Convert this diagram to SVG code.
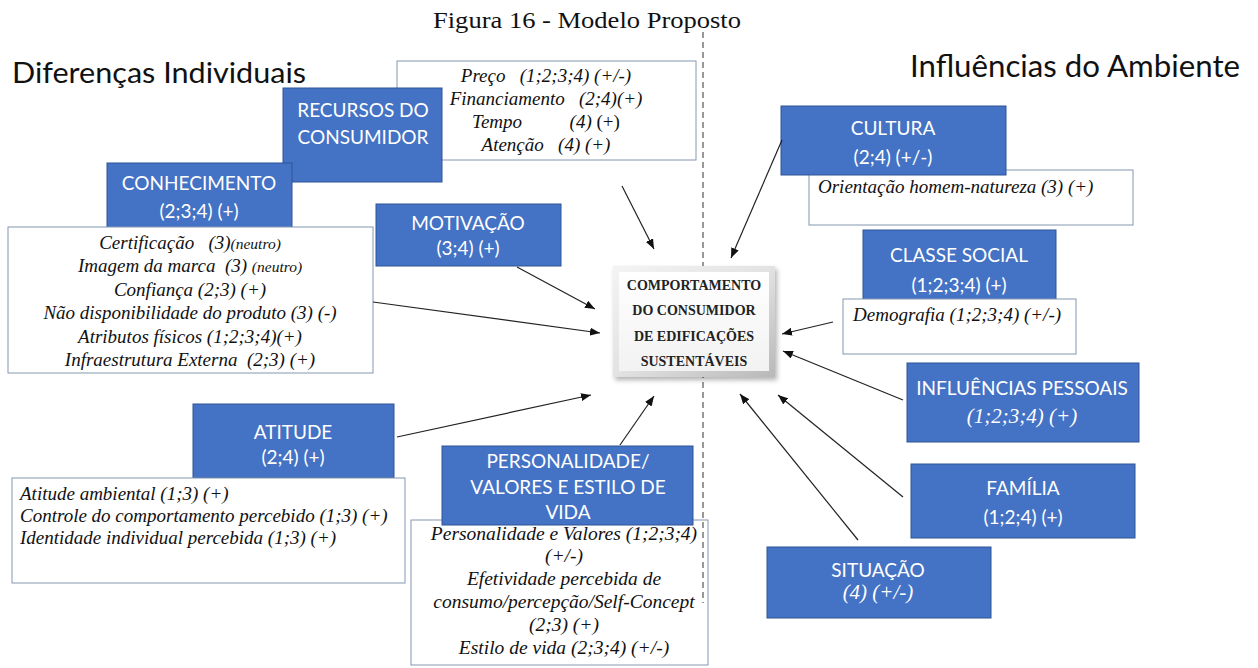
<svg xmlns="http://www.w3.org/2000/svg" width="1258" height="668" viewBox="0 0 1258 668">
<style>
.blue{fill:#4472C4;stroke:#2F5597;stroke-width:1}
.tbox{fill:#ffffff;stroke:#8497B0;stroke-width:1}
.bl{font-family:Lato,"Liberation Sans",sans-serif;font-size:19px;fill:#ffffff;text-anchor:middle}
.bi{font-family:"Times New Roman","Liberation Serif",Tinos,Times,serif;font-style:italic;font-size:21px;fill:#ffffff;text-anchor:middle}
.it{font-family:"Times New Roman","Liberation Serif",Tinos,Times,serif;font-style:italic;font-size:19px;fill:#111111}
.pv{font-size:19.5px}
.c{text-anchor:middle}
.sm{font-size:15.5px}
.hd{font-family:Lato,"Liberation Sans",sans-serif;fill:#111111}
.ttl{font-family:"Times New Roman","Liberation Serif",Tinos,Times,serif;font-size:23px;fill:#111111;text-anchor:middle}
.ctr{font-family:"Times New Roman","Liberation Serif",Tinos,Times,serif;font-weight:bold;font-size:14px;fill:#222222;text-anchor:middle}
.conn line{stroke:#222222;stroke-width:1.2;marker-end:url(#ah)}
</style>
<defs>
<marker id="ah" markerUnits="userSpaceOnUse" markerWidth="10" markerHeight="8" refX="10" refY="4" orient="auto">
<path d="M0,0 L10,4 L0,8 z" fill="#111111"/>
</marker>
<linearGradient id="bev" x1="0" y1="0" x2="1" y2="1">
<stop offset="0" stop-color="#f4f4f4"/>
<stop offset="0.5" stop-color="#e2e2e2"/>
<stop offset="1" stop-color="#b8b8b8"/>
</linearGradient>
<linearGradient id="face" x1="0" y1="0" x2="0" y2="1">
<stop offset="0" stop-color="#ffffff"/>
<stop offset="1" stop-color="#f2f2f2"/>
</linearGradient>
<filter id="sh" x="-10%" y="-10%" width="130%" height="130%">
<feDropShadow dx="2" dy="3" stdDeviation="2.5" flood-color="#000000" flood-opacity="0.3"/>
</filter>
</defs>
<rect width="1258" height="668" fill="#ffffff"/>

<text class="ttl" x="587" y="28" textLength="308" lengthAdjust="spacingAndGlyphs">Figura 16 - Modelo Proposto</text>
<text class="hd" x="12" y="83" font-size="28" textLength="294" lengthAdjust="spacingAndGlyphs">Diferenças Individuais</text>
<text class="hd" x="910" y="77" font-size="31" textLength="330" lengthAdjust="spacingAndGlyphs">Influências do Ambiente</text>

<g id="recursos">
<rect class="tbox" x="397" y="61" width="299" height="99"/>
<text class="it c" x="546" y="82" xml:space="preserve">Preço   (1;2;3;4) (+/-)</text>
<text class="it c" x="546" y="105" xml:space="preserve">Financiamento   (2;4)(+)</text>
<text class="it c" x="546" y="128" xml:space="preserve">Tempo          (4) <tspan font-style="normal">(+)</tspan></text>
<text class="it c" x="546" y="151" xml:space="preserve">Atenção   (4) (+)</text>
<rect class="blue" x="283" y="88" width="159" height="94"/>
<text class="bl" x="363" y="117">RECURSOS DO</text>
<text class="bl" x="363" y="144">CONSUMIDOR</text>
</g>

<g id="conhecimento">
<rect class="blue" x="107" y="163" width="185" height="66"/>
<text class="bl" x="199" y="190">CONHECIMENTO</text>
<text class="bl" x="199" y="218">(2;3;4) (+)</text>
<rect class="tbox" x="8" y="227" width="365" height="146"/>
<text class="it c" x="190" y="249" xml:space="preserve">Certificação   (3)<tspan class="sm">(neutro)</tspan></text>
<text class="it c" x="190" y="272" xml:space="preserve">Imagem da marca  (3) <tspan class="sm">(neutro)</tspan></text>
<text class="it c" x="190" y="296">Confiança (2;3) (+)</text>
<text class="it c" x="190" y="319">Não disponibilidade do produto (3) (-)</text>
<text class="it c" x="190" y="343">Atributos físicos (1;2;3;4)(+)</text>
<text class="it c" x="190" y="366" xml:space="preserve">Infraestrutura Externa  (2;3) (+)</text>
</g>

<g id="motivacao">
<rect class="blue" x="376" y="204" width="185" height="62"/>
<text class="bl" x="468" y="230">MOTIVAÇÃO</text>
<text class="bl" x="468" y="255">(3;4) (+)</text>
</g>

<g id="atitude">
<rect class="blue" x="193" y="404" width="201" height="74"/>
<text class="bl" x="293" y="439">ATITUDE</text>
<text class="bl" x="293" y="464">(2;4) (+)</text>
<rect class="tbox" x="12" y="478" width="393" height="105"/>
<text class="it" x="20" y="500">Atitude ambiental (1;3) (+)</text>
<text class="it" x="20" y="522">Controle do comportamento percebido (1;3) (+)</text>
<text class="it" x="20" y="544">Identidade individual percebida (1;3) (+)</text>
</g>

<g id="personalidade">
<rect class="tbox" x="411" y="520" width="297" height="145"/>
<rect class="blue" x="442" y="446" width="251" height="79"/>
<text class="bl" x="568" y="468">PERSONALIDADE/</text>
<text class="bl" x="568" y="494">VALORES E ESTILO DE</text>
<text class="bl" x="568" y="519">VIDA</text>
<text class="it pv c" x="564" y="540">Personalidade e Valores (1;2;3;4)</text>
<text class="it pv c" x="564" y="562">(+/-)</text>
<text class="it pv c" x="564" y="585">Efetividade percebida de</text>
<text class="it pv c" x="564" y="608">consumo/percepção/Self-Concept</text>
<text class="it pv c" x="564" y="631">(2;3) (+)</text>
<text class="it pv c" x="564" y="654">Estilo de vida (2;3;4) (+/-)</text>
</g>

<g id="cultura">
<rect class="tbox" x="809" y="170" width="324" height="55"/>
<text class="it" x="818" y="193">Orientação homem-natureza (3) (+)</text>
<rect class="blue" x="781" y="106" width="225" height="69"/>
<text class="bl" x="893" y="135">CULTURA</text>
<text class="bl" x="893" y="164">(2;4) (+/-)</text>
</g>

<g id="classe-social">
<rect class="blue" x="863" y="230" width="193" height="73"/>
<text class="bl" x="959" y="262">CLASSE SOCIAL</text>
<text class="bl" x="959" y="292">(1;2;3;4) (+)</text>
<rect class="tbox" x="843" y="299" width="233" height="55"/>
<text class="it" x="853" y="321">Demografia (1;2;3;4) (+/-)</text>
</g>

<g id="influencias-pessoais">
<rect class="blue" x="907" y="363" width="232" height="79"/>
<text class="bl" x="1022" y="395">INFLUÊNCIAS PESSOAIS</text>
<text class="bi" x="1022" y="423">(1;2;3;4) (+)</text>
</g>

<g id="familia">
<rect class="blue" x="911" y="464" width="224" height="74"/>
<text class="bl" x="1023" y="495">FAMÍLIA</text>
<text class="bl" x="1023" y="524">(1;2;4) (+)</text>
</g>

<g id="situacao">
<rect class="blue" x="767" y="547" width="224" height="71"/>
<text class="bl" x="878" y="577">SITUAÇÃO</text>
<text class="bi" x="878" y="599">(4) (+/-)</text>
</g>

<line x1="703" y1="32" x2="703" y2="603" stroke="#333333" stroke-width="1" stroke-dasharray="6,4"/>

<g id="comportamento">
<rect x="613" y="266" width="162" height="111" fill="url(#bev)" filter="url(#sh)"/>
<rect x="619" y="272" width="150" height="99" fill="url(#face)"/>
<text class="ctr" x="694" y="290">COMPORTAMENTO</text>
<text class="ctr" x="694" y="315">DO CONSUMIDOR</text>
<text class="ctr" x="694" y="341">DE EDIFICAÇÕES</text>
<text class="ctr" x="694" y="366">SUSTENTÁVEIS</text>
</g>

<g id="connectors" class="conn">
<line x1="622" y1="186" x2="654" y2="249"/>
<line x1="782" y1="140" x2="731" y2="258"/>
<line x1="517" y1="267" x2="595" y2="309"/>
<line x1="373" y1="302" x2="600" y2="333"/>
<line x1="397" y1="437" x2="591" y2="395"/>
<line x1="620" y1="445" x2="654" y2="396"/>
<line x1="858" y1="540" x2="740" y2="394"/>
<line x1="903" y1="497" x2="778" y2="395"/>
<line x1="903" y1="400" x2="783" y2="351"/>
<line x1="833" y1="322" x2="782" y2="334"/>
</g>
</svg>
